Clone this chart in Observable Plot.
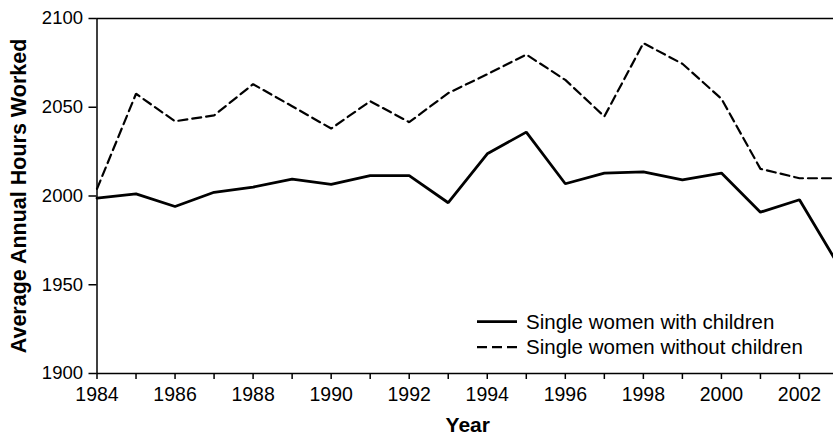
<!DOCTYPE html>
<html><head><meta charset="utf-8">
<script src="https://cdn.jsdelivr.net/npm/d3@7"></script>
<script src="https://cdn.jsdelivr.net/npm/@observablehq/plot@0.6"></script>
<style>
html,body{margin:0;padding:0;background:#fff;overflow:hidden;width:833px;height:434px}
#wrap{position:relative;width:838px;height:434px}
g[aria-label="x-axis label"]{font-size:21px;font-weight:bold}
g[aria-label="y-axis label"]{font-size:21.5px;font-weight:bold}
#legend{position:absolute;left:470px;top:300px}
</style></head><body><div id="wrap"></div>
<script>
const years = [1984,1985,1986,1987,1988,1989,1990,1991,1992,1993,1994,1995,1996,1997,1998,1999,2000,2001,2002,2003];
const withChildren = [1998.8,2001.2,1994.1,2002.1,2005,2009.5,2006.5,2011.5,2011.5,1996.2,2023.8,2036,2006.9,2012.9,2013.6,2009.1,2012.9,1990.9,1997.9,1961];
const withoutChildren = [2004,2057.6,2042.1,2045.4,2063,2050.6,2038,2053.4,2041.6,2058,2068.6,2079.7,2065.4,2044.8,2086.1,2074.5,2054.8,2015.3,2010,2010];
const yTicks = [1900,1950,2000,2050,2100];
const xLabels = [1984,1986,1988,1990,1992,1994,1996,1998,2000,2002];
const seriesNames = ["Single women with children","Single women without children"];
const seriesDash = [null,"10,5"];

const rows = years.map((y,i)=>({year:y, a:withChildren[i], b:withoutChildren[i]}));
const font = "'Liberation Sans', Arial, Helvetica, sans-serif";
const chart = Plot.plot({
  width:838, height:434, marginLeft:96.5, marginRight:0, marginTop:18, marginBottom:61,
  style:{fontFamily:font, background:"white", color:"black"},
  x:{domain:[1984,2003]},
  y:{domain:[1900,2100]},
  marks:[
    Plot.axisY({ticks:yTicks, tickSize:8, tickPadding:6, fontSize:18.5, strokeWidth:1.5, tickFormat:d=>String(d),
      label:"Average Annual Hours Worked", labelAnchor:"center", labelOffset:86.5, labelArrow:"none"}),
    Plot.axisX({ticks:years, tickSize:6, strokeWidth:1.5, tickFormat:()=>"", label:null}),
    Plot.axisX({ticks:xLabels, tickSize:0, tickPadding:14, fontSize:19.5, tickFormat:d=>String(d),
      label:"Year", labelAnchor:"center", labelArrow:"none"}),
    Plot.ruleY([1900,2100], {strokeWidth:1.5}),
    Plot.ruleX([1984], {strokeWidth:1.5}),
    Plot.line(rows, {x:"year", y:"a", stroke:"black", strokeWidth:2.8, strokeLinejoin:"miter"}),
    Plot.line(rows, {x:"year", y:"b", stroke:"black", strokeWidth:2.2, strokeDasharray:"9,5", strokeLinejoin:"miter"})
  ]
});
const wrap = document.getElementById("wrap");
wrap.appendChild(chart);

const leg = d3.select(wrap).append("svg").attr("id","legend").attr("width",363).attr("height",62)
  .style("font-family",font);
seriesNames.forEach((name,i)=>{
  const cy = 21.7 + i*25.5;
  leg.append("line").attr("x1",7).attr("x2",47).attr("y1",cy).attr("y2",cy)
    .attr("stroke","black").attr("stroke-width",i===0?2.8:2.2)
    .attr("stroke-dasharray",seriesDash[i]);
  leg.append("text").attr("x",56).attr("y",cy+6.8).attr("font-size",20.5).text(name);
});
</script></body></html>
